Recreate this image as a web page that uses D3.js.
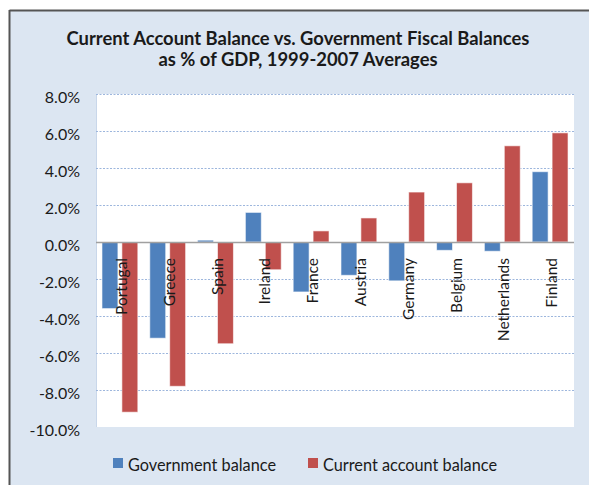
<!DOCTYPE html>
<html><head><meta charset="utf-8">
<script src="https://cdn.jsdelivr.net/npm/d3@7"></script>
<style>body{margin:0;background:#fff}svg{display:block}text{font-family:Lato,"Open Sans",sans-serif;fill:#1a1a1a}</style>
</head><body><svg id="c" width="589" height="485"></svg>
<script>
const countries = ["Portugal","Greece","Spain","Ireland","France","Austria","Germany","Belgium","Netherlands","Finland"];
const governmentBalance = [-3.6,-5.2,0.1,1.6,-2.7,-1.8,-2.1,-0.45,-0.5,3.8];
const currentAccountBalance = [-9.2,-7.8,-5.5,-1.5,0.6,1.3,2.7,3.2,5.2,5.9];
const seriesNames = ["Government balance","Current account balance"];
const seriesColors = ["#4F81BD","#C0504D"];
const yTicks = [8,6,4,2,0,-2,-4,-6,-8,-10];
const titleLines = ["Current Account Balance vs. Government Fiscal Balances","as % of GDP, 1999-2007 Averages"];

const svg = d3.select("#c");
// frame
svg.append("rect").attr("x",10).attr("y",11).attr("width",579).attr("height",474).attr("fill","#DCE6F2");
svg.append("line").attr("x1",9.5).attr("x2",589).attr("y1",10.5).attr("y2",10.5).attr("stroke","#555").attr("stroke-width",2);
svg.append("line").attr("x1",9.5).attr("x2",9.5).attr("y1",10).attr("y2",485).attr("stroke","#555").attr("stroke-width",2);

const L=96,R=574,T=94,B=427;
const y = d3.scaleLinear().domain([-10,8]).range([B,T]);
const x0 = d3.scaleBand().domain(countries).range([L,R]).paddingInner(0.25).paddingOuter(0.125);
const x1 = d3.scaleBand().domain([0,1]).range([0,x0.bandwidth()]).paddingInner(0.2);

svg.append("rect").attr("x",L).attr("y",T).attr("width",R-L).attr("height",B-T).attr("fill","#fff");
svg.append("line").attr("x1",L+0.5).attr("x2",L+0.5).attr("y1",T).attr("y2",B).attr("stroke","#C9D7EA");

// gridlines
svg.append("g").selectAll("line").data(yTicks.filter(d=>d!==0 && d!==-10)).join("line")
  .attr("x1",L).attr("x2",R).attr("y1",d=>Math.round(y(d))+0.5).attr("y2",d=>Math.round(y(d))+0.5)
  .attr("stroke","#9DB6DD").attr("stroke-width",1).attr("stroke-dasharray","2,1.5");

// axis labels
const yAxis = d3.axisLeft(y).tickValues(yTicks).tickSize(0).tickPadding(0)
  .tickFormat(d=>d3.format(".1f")(d).replace("\u2212","-")+"%");
const ga = svg.append("g").attr("transform",`translate(80,3)`).call(yAxis);
ga.select(".domain").remove();
ga.selectAll("text").attr("font-size",16).attr("fill","#1a1a1a").style("font-family","Lato,'Open Sans',sans-serif");

// bars
const data = countries.map((c,i)=>({c, v:[governmentBalance[i],currentAccountBalance[i]]}));
const g = svg.append("g");
data.forEach(d=>{
  d.v.forEach((v,j)=>{
    g.append("rect").attr("x",x0(d.c)+x1(j)).attr("width",x1.bandwidth())
      .attr("y",y(Math.max(0,v))).attr("height",Math.abs(y(v)-y(0)))
      .attr("fill",seriesColors[j]).attr("stroke","#fff").attr("stroke-opacity",0.6).attr("stroke-width",1);
  });
});
// zero line
svg.append("line").attr("x1",L).attr("x2",R).attr("y1",Math.round(y(0))+0.5).attr("y2",Math.round(y(0))+0.5).attr("stroke","#A0A0A0").attr("stroke-width",1.5);

// category labels
svg.append("g").selectAll("text").data(countries).join("text")
  .attr("transform",d=>`translate(${x0(d)+x0.bandwidth()/2+1},258) rotate(-90)`)
  .attr("text-anchor","end").attr("dominant-baseline","central").attr("font-size",15.5).text(d=>d);

// title
svg.append("g").selectAll("text").data(titleLines).join("text")
  .attr("x",298).attr("y",(d,i)=>45+i*21).attr("text-anchor","middle")
  .attr("font-size",18.4).attr("font-weight","bold").text(d=>d);

// legend
const legX=[113,308];
seriesNames.forEach((n,i)=>{
  svg.append("rect").attr("x",legX[i]).attr("y",458).attr("width",10).attr("height",10).attr("fill",seriesColors[i]);
  svg.append("text").attr("x",legX[i]+15).attr("y",471).attr("font-size",16.3).text(n);
});
</script></body></html>
